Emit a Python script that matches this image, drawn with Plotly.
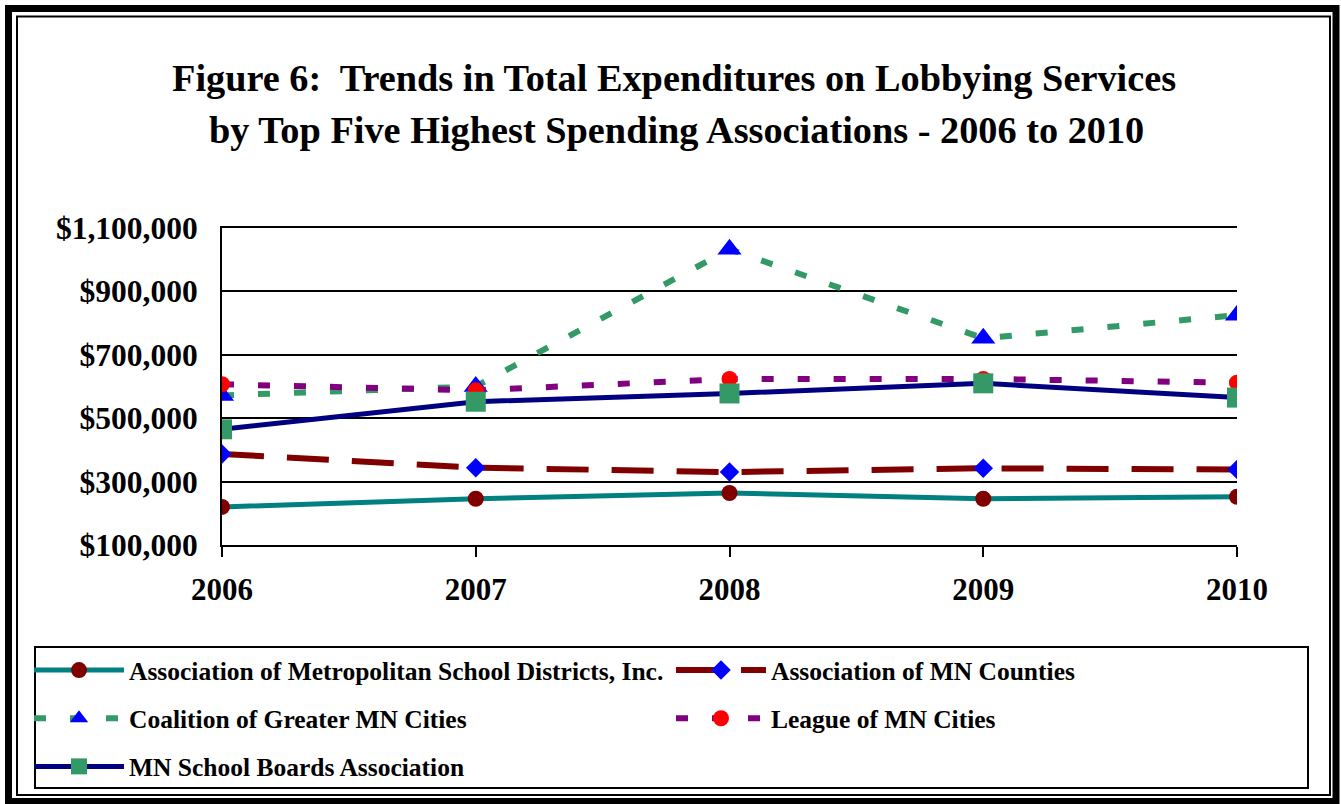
import plotly.graph_objects as go

years = [2006, 2007, 2008, 2009, 2010]
metro_school = [220000, 246000, 264000, 246000, 252000]
mn_counties = [387000, 344000, 330000, 342000, 338000]
coalition = [572000, 600000, 1033000, 752000, 825000]
league = [607000, 588000, 624000, 624000, 612000]
school_boards = [465000, 552000, 578000, 610000, 565000]

names = [
    "Association of Metropolitan School Districts, Inc.",
    "Association of MN Counties",
    "Coalition of Greater MN Cities",
    "League of MN Cities",
    "MN School Boards Association",
]
ytick_vals = [100000, 300000, 500000, 700000, 900000, 1100000]
ytick_text = ["$100,000", "$300,000", "$500,000", "$700,000", "$900,000", "$1,100,000"]
xtick_text = ["2006", "2007", "2008", "2009", "2010"]

FONT = "Liberation Serif"
W, H = 1341, 804
L, R, T, B = 222, 104, 228, 259
PW, PH = W - L - R, H - T - B

def px(x):
    return (x - L) / PW

def py(y):
    return (H - B - y) / PH

fig = go.Figure()
fig.add_trace(go.Scatter(
    x=years, y=metro_school, name=names[0], mode="lines+markers",
    line=dict(color="#008080", width=5),
    marker=dict(symbol="circle", size=16, color="#800000"),
    legend="legend", legendgroup="a"))
fig.add_trace(go.Scatter(
    x=years, y=mn_counties, name=names[1], mode="lines+markers",
    line=dict(color="#800000", width=6, dash="42px,23px"),
    marker=dict(symbol="diamond", size=15, color="#0000FF"),
    legend="legend2", legendgroup="b"))
fig.add_trace(go.Scatter(
    x=years, y=coalition, name=names[2], mode="lines+markers",
    line=dict(color="#339966", width=6, dash="12px,24px"),
    marker=dict(symbol="triangle-up", size=21, color="#0000FF"),
    legend="legend", legendgroup="c"))
fig.add_trace(go.Scatter(
    x=years, y=league, name=names[3], mode="lines+markers",
    line=dict(color="#800080", width=6, dash="12px,24px"),
    marker=dict(symbol="circle", size=16, color="#FF0000"),
    legend="legend2", legendgroup="d"))
fig.add_trace(go.Scatter(
    x=years, y=school_boards, name=names[4], mode="lines+markers",
    line=dict(color="#000080", width=5),
    marker=dict(symbol="square", size=20, color="#339966"),
    legend="legend", legendgroup="e"))

legend_common = dict(
    font=dict(family=FONT, size=25.5, color="black", weight="bold"),
    bgcolor="rgba(0,0,0,0)", borderwidth=0,
    xref="container", yref="container",
    orientation="v", tracegroupgap=12, itemwidth=90,
    xanchor="left", yanchor="top",
)

fig.update_layout(
    width=W, height=H,
    margin=dict(l=L, r=R, t=T, b=B, autoexpand=False),
    paper_bgcolor="white", plot_bgcolor="white",
    font=dict(family=FONT, color="black"),
    showlegend=True,
    legend=dict(x=29 / W, y=1 - 647 / H, **legend_common),
    legend2=dict(x=671 / W, y=1 - 647 / H, **legend_common),
    xaxis=dict(
        range=[2006, 2010], tickvals=years, ticktext=xtick_text,
        showgrid=False, showline=True, linecolor="black", linewidth=2, mirror=True,
        ticks="outside", ticklen=10, tickwidth=2, tickcolor="black",
        tickfont=dict(family=FONT, size=31, color="black", weight="bold"),
        ticklabelstandoff=6, zeroline=False, automargin=False,
    ),
    yaxis=dict(
        range=[100000, 1100000], tickvals=ytick_vals, ticktext=ytick_text,
        showgrid=True, gridcolor="black", gridwidth=2,
        showline=True, linecolor="black", linewidth=2,
        ticks="", tickfont=dict(family=FONT, size=31.5, color="black", weight="bold"),
        ticklabelstandoff=16, zeroline=False, automargin=False,
    ),
)

fig.add_annotation(
    text="Figure 6:\u00a0 Trends in Total Expenditures on Lobbying Services",
    xref="paper", yref="paper", x=px(674), y=py(78), xanchor="center", yanchor="middle",
    showarrow=False, font=dict(family=FONT, size=38.3, color="black", weight="bold"))
fig.add_annotation(
    text="by Top Five Highest Spending Associations - 2006 to 2010",
    xref="paper", yref="paper", x=px(676), y=py(130), xanchor="center", yanchor="middle",
    showarrow=False, font=dict(family=FONT, size=38.3, color="black", weight="bold"))

# legend frame
fig.add_shape(type="rect", xref="paper", yref="paper",
              x0=px(35), x1=px(1308), y0=py(647), y1=py(788),
              line=dict(color="black", width=2), fillcolor="rgba(0,0,0,0)", layer="above")
# outer frame
fig.add_shape(type="rect", xref="paper", yref="paper",
              x0=px(8.5), x1=px(1336), y0=py(8.5), y1=py(801.5),
              line=dict(color="black", width=7), fillcolor="rgba(0,0,0,0)", layer="above")
fig.add_shape(type="rect", xref="paper", yref="paper",
              x0=px(17), x1=px(1330), y0=py(16.5), y1=py(795),
              line=dict(color="black", width=2), fillcolor="rgba(0,0,0,0)", layer="above")

fig.write_html(
    "out.html",
    config={"displayModeBar": False},
    post_script="document.body.style.margin='0px';document.body.style.overflow='hidden';",
)
